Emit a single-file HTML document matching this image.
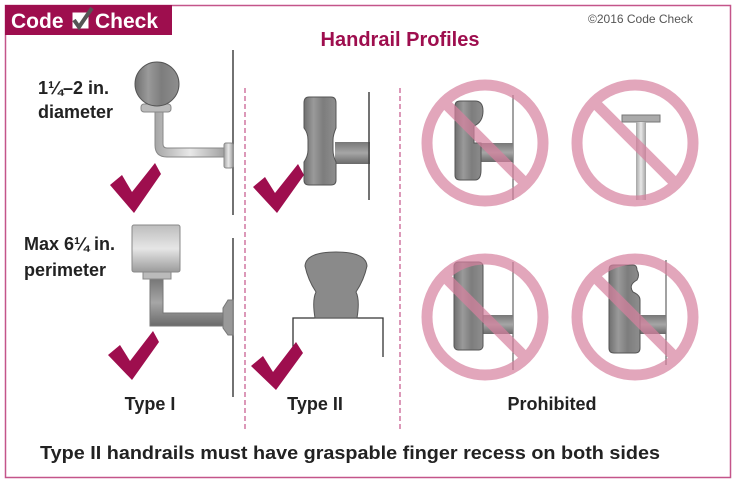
<!DOCTYPE html>
<html><head><meta charset="utf-8"><style>
html,body{margin:0;padding:0;background:#fff;width:737px;height:483px;overflow:hidden}
svg{display:block;font-family:"Liberation Sans",sans-serif}
</style></head><body>
<svg width="737" height="483" viewBox="0 0 737 483">
<defs>
<linearGradient id="wood" x1="0" x2="1"><stop offset="0" stop-color="#6f6f6f"/><stop offset=".3" stop-color="#9a9a9a"/><stop offset=".6" stop-color="#7d7d7d"/><stop offset="1" stop-color="#8e8e8e"/></linearGradient>
<linearGradient id="metal" x1="0" x2="0" y1="0" y2="1"><stop offset="0" stop-color="#bdbdbd"/><stop offset=".5" stop-color="#e6e6e6"/><stop offset="1" stop-color="#9b9b9b"/></linearGradient>
<linearGradient id="metalv" x1="0" x2="1"><stop offset="0" stop-color="#a5a5a5"/><stop offset=".5" stop-color="#e8e8e8"/><stop offset="1" stop-color="#a0a0a0"/></linearGradient>
<linearGradient id="bar" x1="0" x2="0" y1="0" y2="1"><stop offset="0" stop-color="#777"/><stop offset=".5" stop-color="#a6a6a6"/><stop offset="1" stop-color="#6a6a6a"/></linearGradient>
</defs>
<rect x="5.5" y="5.5" width="725" height="472" fill="none" stroke="#c4558a" stroke-width="1.5"/>
<rect x="5" y="5" width="167" height="30" fill="#9e0e4e"/>
<text x="11" y="28" font-size="21" font-weight="bold" fill="#fff">Code</text>
<rect x="72" y="12" width="17" height="17" fill="#fff" stroke="#9e0e4e"/>
<path d="M74 20 L79 27 L92 8" stroke="#555" stroke-width="4" fill="none"/>
<text x="95" y="28" font-size="21" font-weight="bold" fill="#fff">Check</text>
<text x="588" y="23" font-size="12" fill="#555">©2016 Code Check</text>
<text x="400" y="46" font-size="20" font-weight="bold" fill="#9e0e4e" text-anchor="middle">Handrail Profiles</text>

<g fill="#222" font-size="18" font-weight="bold">
<text x="38" y="94">1¼–2 in.</text>
<text x="38" y="118">diameter</text>
<text x="24" y="250">Max 6¼ in.</text>
<text x="24" y="276">perimeter</text>
<text x="150" y="410" text-anchor="middle">Type I</text>
<text x="315" y="410" text-anchor="middle">Type II</text>
<text x="552" y="410" text-anchor="middle">Prohibited</text>
<text x="40" y="459" textLength="620" lengthAdjust="spacingAndGlyphs">Type II handrails must have graspable finger recess on both sides</text>
</g>

<line x1="233" y1="50" x2="233" y2="215" stroke="#444" stroke-width="1.5"/>
<line x1="233" y1="238" x2="233" y2="397" stroke="#444" stroke-width="1.5"/>
<line x1="245" y1="88" x2="245" y2="430" stroke="#c4558a" stroke-width="1.2" stroke-dasharray="5,3"/>
<line x1="400" y1="88" x2="400" y2="430" stroke="#c4558a" stroke-width="1.2" stroke-dasharray="5,3"/>

<path d="M155 112 V145 Q155 157 167 157 H225 V148 H167 Q163 148 163 144 V112Z" fill="url(#metalv)" stroke="#888"/>
<rect x="224" y="143" width="9" height="25" rx="2" fill="url(#metalv)" stroke="#888"/>
<rect x="141" y="104" width="30" height="8" rx="3" fill="#bbb" stroke="#888"/>
<circle cx="157" cy="84" r="22" fill="url(#wood)" stroke="#555"/>
<path d="M150 279 V326 H223 V313 H163 V279Z" fill="url(#bar)" stroke="#777"/>
<path d="M223 308 L228 300 H233 V335 H228 L223 328Z" fill="#999" stroke="#777"/>
<rect x="143" y="272" width="28" height="7" fill="#bbb" stroke="#888"/>
<rect x="132" y="225" width="48" height="47" rx="2" fill="url(#metal)" stroke="#888"/>

<rect x="335" y="142" width="35" height="22" fill="url(#bar)"/>
<line x1="369" y1="92" x2="369" y2="200" stroke="#444" stroke-width="1.5"/>
<path d="M309 97 H331 Q336 97 336 103 V128 Q333 135 333 140 V150 Q333 156 336 162 V180 Q336 185 331 185 H309 Q304 185 304 180 V162 Q308 156 308 150 V140 Q308 133 304 128 V103 Q304 97 309 97Z" fill="url(#wood)" stroke="#555"/>
<path d="M293 357 V318 H383 V357" fill="none" stroke="#333" stroke-width="1.3"/>
<path d="M315 318 Q312 300 316 292 Q308 280 305 266 Q306 252 336 252 Q366 252 367 266 Q364 280 356 292 Q360 300 357 318Z" fill="#8a8a8a" stroke="#555"/>

<g fill="#9e0e4e">
<path d="M110 185 L122 175 L132 192 L155 163 L161 174 L134 213Z"/>
<path d="M253 187 L265 177 L275 193 L298 164 L304 175 L277 213Z"/>
<path d="M108 355 L120 345 L130 361 L153 331 L159 342 L132 380Z"/>
<path d="M251 366 L263 356 L273 372 L296 342 L303 353 L276 390Z"/>
</g>

<line x1="513" y1="95" x2="513" y2="200" stroke="#444" stroke-width="1"/>
<rect x="480" y="143" width="33" height="19" fill="url(#bar)"/>
<path d="M460 101 H475 Q483 101 483 111 Q483 122 474 126 V143 H481 V170 Q481 180 475 180 H460 Q455 180 455 175 V106 Q455 101 460 101Z" fill="url(#wood)" stroke="#555"/>
<rect x="622" y="115" width="38" height="7" fill="#aaa" stroke="#777"/>
<rect x="636" y="122" width="10" height="78" fill="url(#metalv)"/>
<line x1="513" y1="262" x2="513" y2="370" stroke="#444" stroke-width="1"/>
<rect x="480" y="315" width="33" height="19" fill="url(#bar)"/>
<rect x="454" y="262" width="29" height="88" rx="4" fill="url(#wood)" stroke="#555"/>
<line x1="666" y1="260" x2="666" y2="365" stroke="#444" stroke-width="1"/>
<rect x="638" y="315" width="28" height="19" fill="url(#bar)"/>
<path d="M613 265 H633 Q637 265 637 270 Q640 275 637 280 Q628 285 633 292 Q640 295 640 300 V348 Q640 353 635 353 H614 Q609 353 609 348 V270 Q609 265 613 265Z" fill="url(#wood)" stroke="#555"/>
<g fill="none" stroke="#d7819f" stroke-width="11" opacity="0.7">
<circle cx="485" cy="143" r="58"/><line x1="444" y1="102" x2="526" y2="184"/>
<circle cx="635" cy="143" r="58"/><line x1="594" y1="102" x2="676" y2="184"/>
<circle cx="485" cy="317" r="58"/><line x1="444" y1="276" x2="526" y2="358"/>
<circle cx="635" cy="317" r="58"/><line x1="594" y1="276" x2="676" y2="358"/>
</g>
</svg>
</body></html>
